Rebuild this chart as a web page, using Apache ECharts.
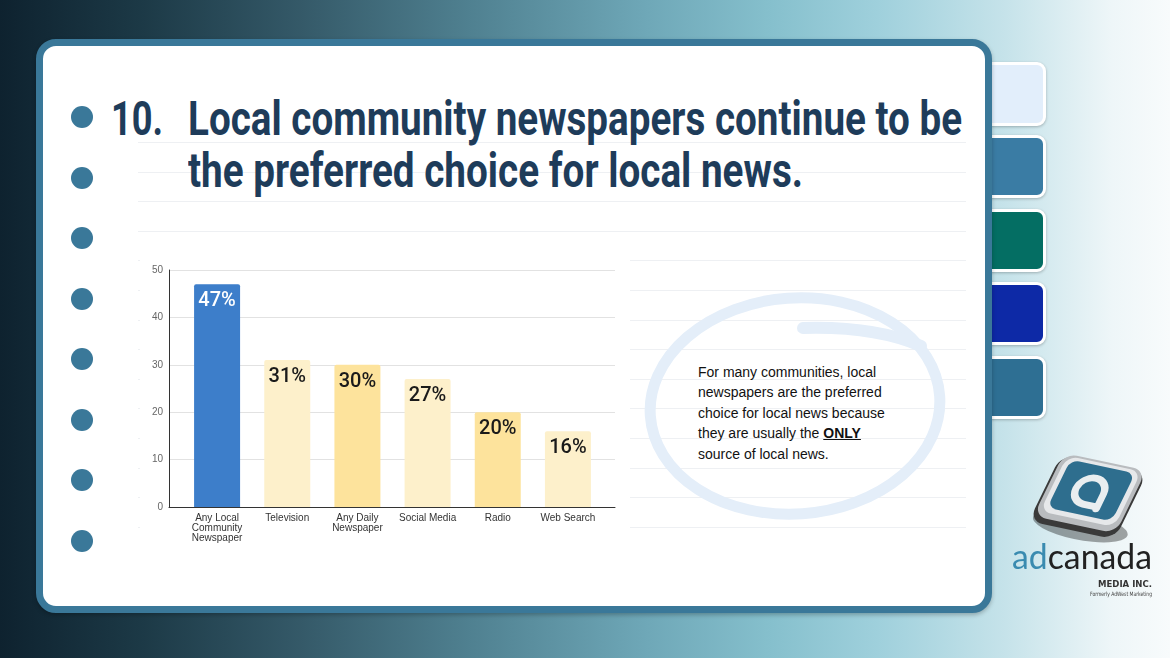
<!DOCTYPE html>
<html>
<head>
<meta charset="utf-8">
<script src="https://cdn.jsdelivr.net/npm/echarts@6/dist/echarts.min.js"></script>
<style>
  html,body{margin:0;padding:0;width:1170px;height:658px;overflow:hidden;}
  body{position:relative;background:linear-gradient(90deg,#0e222f 0%,#1c3946 12%,#355a69 26%,#4f8090 40%,#6ea7b7 55%,#86c0cd 66%,#9fd0dc 75%,#c6e3ea 86%,#eef6f8 95%,#f8fbfc 100%);font-family:'Liberation Sans',Arial,sans-serif;}
  .tab{position:absolute;left:983px;width:57px;border:3px solid #fff;border-radius:9px;box-shadow:0 1px 3px rgba(0,0,0,.25);z-index:1;}
  #card{position:absolute;left:36px;top:39px;width:956px;height:574px;box-sizing:border-box;border:7px solid #3a7899;border-radius:20px;background:#fff;z-index:2;box-shadow:0 2px 4px rgba(0,0,0,.25);}
  .fline{position:absolute;left:138px;width:828px;height:1px;background:#eef0f3;z-index:3;}
  .dot{position:absolute;left:71px;width:22px;height:22px;border-radius:50%;background:#3a7899;z-index:3;}
  .title{position:absolute;z-index:4;font-family:Roboto,sans-serif;font-weight:700;font-size:49px;color:#1e3c5a;white-space:nowrap;transform-origin:0 0;line-height:1;}
  #cover{position:absolute;left:140px;top:250px;width:490px;height:300px;background:#fff;z-index:3;}
  #svgdeco{position:absolute;left:0;top:0;z-index:4;}
  #note{position:absolute;left:698px;top:362px;z-index:5;font-family:'Liberation Sans',Arial,sans-serif;font-size:14px;line-height:20.4px;color:#111;}
  #note b{text-decoration:underline;}
  #chart{position:absolute;left:0;top:0;width:1170px;height:658px;z-index:6;}
  .logo{position:absolute;white-space:nowrap;z-index:6;transform-origin:0 0;}
</style>
</head>
<body>
<div class="tab" style="top:62px;height:58px;background:#e2eefb;"></div>
<div class="tab" style="top:135px;height:57px;background:#3a7ca4;"></div>
<div class="tab" style="top:209px;height:57px;background:#046e63;"></div>
<div class="tab" style="top:282px;height:57px;background:#0d29a6;"></div>
<div class="tab" style="top:356px;height:57px;background:#2e6f93;"></div>
<div id="card"></div>
<div id="lines"></div>
<div id="dots"></div>
<div class="title" id="t0" style="left:111px;top:94px;">10.</div>
<div class="title" id="t1" style="left:188px;top:94px;">Local community newspapers continue to be</div>
<div class="title" id="t2" style="left:188px;top:146px;">the preferred choice for local news.</div>
<div id="cover"></div>
<svg id="svgdeco" width="1170" height="658">
  <ellipse cx="795" cy="406" rx="145" ry="108" transform="rotate(-4 795 406)" fill="none" stroke="#e4eef9" stroke-width="11"/>
  <path d="M 803 328 Q 875 326 921 346" fill="none" stroke="#e4eef9" stroke-width="12" stroke-linecap="round"/>
  <g transform="translate(1088 497) rotate(12) skewX(-14)">
    <ellipse cx="6" cy="30" rx="48" ry="14" fill="rgba(0,0,0,0.35)"/>
    <rect x="-44" y="-36" width="88" height="72" rx="14" fill="#3a3a3a"/>
    <rect x="-42" y="-38" width="84" height="68" rx="13" fill="#b9bcbf"/>
    <rect x="-38" y="-36" width="76" height="60" rx="11" fill="#e6e8ea"/>
    <rect x="-33" y="-33" width="66" height="52" rx="9" fill="#2e6e8e"/>
    <path d="M 13 10 L 13 -6 A 14 14 0 1 0 -1 8 L 10 8" fill="none" stroke="#e9eef0" stroke-width="7" stroke-linecap="round"/>
  </g>
</svg>
<div id="note">For many communities, local<br>newspapers are the preferred<br>choice for local news because<br>they are usually the <b>ONLY</b><br>source of local news.</div>
<div id="chart"></div>
<div class="logo" id="lg1" style="left:1012px;top:539px;font-family:Lato,sans-serif;font-weight:400;font-size:34px;line-height:1;"><span style="color:#3a8bb0">ad</span><span style="color:#222">canada</span></div>
<div class="logo" id="lg2" style="left:1098px;top:580px;font-family:'DejaVu Sans',sans-serif;font-weight:700;font-size:9px;line-height:1;color:#333;">MEDIA INC.</div>
<div class="logo" id="lg3" style="left:1090px;top:591px;font-family:'DejaVu Sans',sans-serif;font-size:6px;line-height:1;color:#444;">Formerly AdWest Marketing</div>

<script>
// ---- data ----
const categories = ['Any Local\nCommunity\nNewspaper', 'Television', 'Any Daily\nNewspaper', 'Social Media', 'Radio', 'Web Search'];
const values = [47, 31, 30, 27, 20, 16];
const yMin = 0;
const yMax = 50;
const yInterval = 10;

// ---- styles ----
const barColors = ['#3d7eca', '#fdf0cb', '#fde39c', '#fdf0cb', '#fde39c', '#fdf0cb'];
const labelColors = ['#ffffff', '#1a1a1a', '#1a1a1a', '#1a1a1a', '#1a1a1a', '#1a1a1a'];

// decorative ruled lines and bullets
(function(){
  const L = document.getElementById('lines');
  for (let y = 142; y < 535; y += 29.6) {
    const d = document.createElement('div');
    d.className = 'fline';
    d.style.top = Math.round(y) + 'px';
    L.appendChild(d);
  }
  const D = document.getElementById('dots');
  [117, 178, 238, 299, 359, 420, 480, 541].forEach(function(cy){
    const d = document.createElement('div');
    d.className = 'dot';
    d.style.top = (cy - 11) + 'px';
    D.appendChild(d);
  });
})();

function fitText(id, target){
  const el = document.getElementById(id);
  el.style.transform = 'none';
  const w = el.getBoundingClientRect().width;
  if (w > 0) el.style.transform = 'scaleX(' + (target / w) + ')';
}
function fitAll(){
  fitText('t0', 52);
  fitText('t1', 774);
  fitText('t2', 615);
  fitText('lg1', 140);
  fitText('lg2', 54);
  fitText('lg3', 62);
}
fitAll();
if (document.fonts && document.fonts.ready) document.fonts.ready.then(fitAll);

const chart = echarts.init(document.getElementById('chart'), null, {renderer: 'canvas'});
const axisFont = "'Liberation Sans', Arial, sans-serif";
chart.setOption({
  backgroundColor: 'transparent',
  animation: false,
  grid: [
    {left: 169, right: 555, top: 270, bottom: 151},
    {left: 182, right: 567, top: 270, bottom: 151}
  ],
  xAxis: [
    {gridIndex: 0, type: 'value', min: 0, max: 1, axisLine: {show: true, lineStyle: {color: '#333', width: 1}}, axisTick: {show: false}, axisLabel: {show: false}, splitLine: {show: false}},
    {gridIndex: 1, type: 'category', data: categories, axisLine: {show: false}, axisTick: {show: false},
     axisLabel: {color: '#333', fontFamily: axisFont, fontSize: 10, lineHeight: 10, margin: 6, interval: 0}}
  ],
  yAxis: [
    {gridIndex: 0, type: 'value', min: yMin, max: yMax, interval: yInterval,
     axisLine: {show: true, lineStyle: {color: '#333', width: 1}}, axisTick: {show: false},
     axisLabel: {color: '#666', fontFamily: axisFont, fontSize: 10, margin: 6},
     splitLine: {lineStyle: {color: '#e2e2e2', width: 1}}},
    {gridIndex: 1, type: 'value', min: yMin, max: yMax, interval: yInterval, show: false, splitLine: {show: false}}
  ],
  series: [{
    type: 'bar',
    xAxisIndex: 1,
    yAxisIndex: 1,
    barWidth: 46,
    data: values.map(function(v, i){
      return {
        value: v,
        itemStyle: {color: barColors[i], borderRadius: [2, 2, 0, 0]},
        label: {color: labelColors[i]}
      };
    }),
    label: {
      show: true,
      position: 'insideTop',
      distance: 7,
      formatter: '{c}%',
      fontFamily: 'Roboto, sans-serif',
      fontSize: 20,
      fontWeight: 500
    }
  }]
});
</script>
</body>
</html>
